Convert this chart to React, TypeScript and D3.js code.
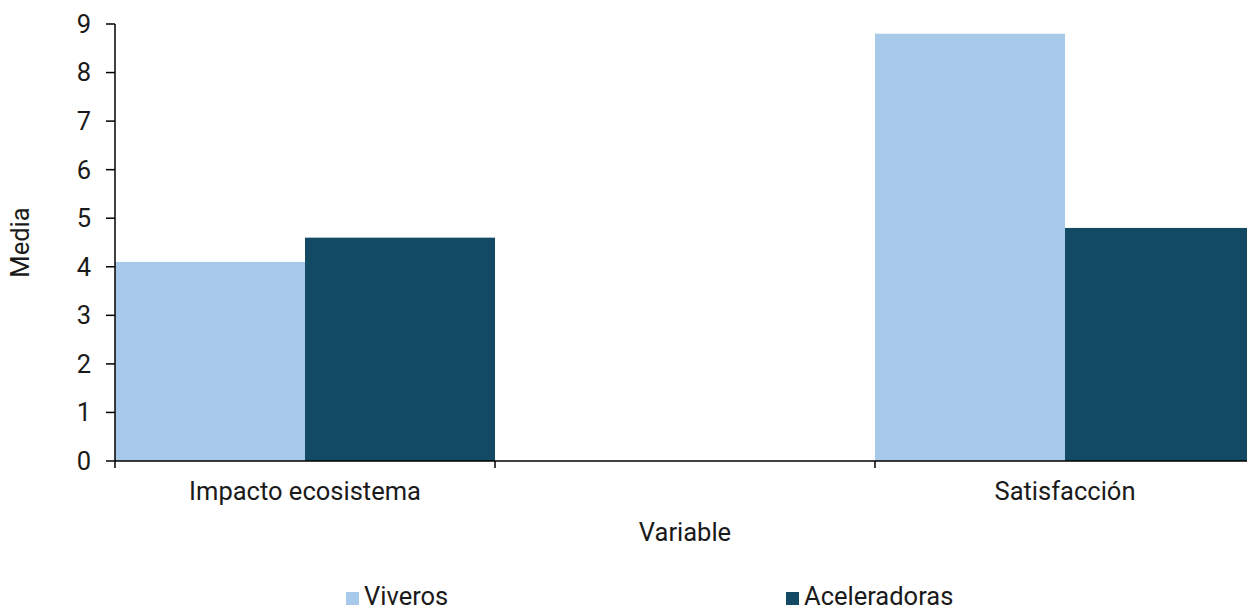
import React from "react";
import * as d3 from "d3";

const categories = ["Impacto ecosistema", "", "Satisfacción"];
const seriesNames = ["Viveros", "Aceleradoras"];
const viveros: (number | null)[] = [4.1, null, 8.8];
const aceleradoras: (number | null)[] = [4.6, null, 4.8];
const yTicks = [0, 1, 2, 3, 4, 5, 6, 7, 8, 9];
const colors = ["#a7caeb", "#124a63"];

const W = 1247;
const H = 611;
const FONT = "Roboto, 'Noto Sans', sans-serif";
const FS = 25.5;

export default function App() {
  const x = d3.scaleBand<string>().domain(categories).range([115, 1255]).padding(0);
  const x1 = d3.scaleBand<string>().domain(seriesNames).range([0, x.bandwidth()]).padding(0);
  const y = d3.scaleLinear().domain([0, 9]).range([461, 24]);
  const series = [viveros, aceleradoras];
  const tickPositions = categories.map((c) => x(c) as number);

  return (
    <svg width={W} height={H} style={{ position: "absolute", left: 0, top: 0 }} fontFamily={FONT}>
      <rect width={W} height={H} fill="#fff" />
      {series.map((vals, si) =>
        vals.map((v, ci) =>
          v == null ? null : (
            <rect
              key={`${si}-${ci}`}
              x={(x(categories[ci]) as number) + (x1(seriesNames[si]) as number)}
              y={y(v)}
              width={x1.bandwidth()}
              height={y(0) - y(v)}
              fill={colors[si]}
            />
          )
        )
      )}
      {/* axes */}
      <line x1={115} x2={W} y1={y(0)} y2={y(0)} stroke="#000" strokeWidth={1.5} />
      <line x1={115} x2={115} y1={y(9)} y2={y(0)} stroke="#000" strokeWidth={1.5} />
      {yTicks.map((t) => (
        <g key={t}>
          <line x1={106} x2={115} y1={y(t)} y2={y(t)} stroke="#000" strokeWidth={1.5} />
          <text x={91} y={y(t)} dy="0.35em" textAnchor="end" fontSize={FS} fill="#1a1a1a">
            {t}
          </text>
        </g>
      ))}
      {tickPositions.map((p, i) => (
        <line key={i} x1={p} x2={p} y1={y(0)} y2={y(0) + 7} stroke="#000" strokeWidth={1.5} />
      ))}
      {categories.map((c) =>
        c ? (
          <text key={c} x={(x(c) as number) + x.bandwidth() / 2} y={500} textAnchor="middle" fontSize={FS} fill="#1a1a1a">
            {c}
          </text>
        ) : null
      )}
      <text x={685} y={541} textAnchor="middle" fontSize={FS} fill="#1a1a1a">
        Variable
      </text>
      <text transform={`translate(29,${(y(0) + y(9)) / 2}) rotate(-90)`} textAnchor="middle" fontSize={FS} fill="#1a1a1a">
        Media
      </text>
      {/* legend */}
      {seriesNames.map((s, i) => {
        const lx = [346, 786][i];
        return (
          <g key={s}>
            <rect x={lx} y={592} width={13} height={13} fill={colors[i]} />
            <text x={lx + 18} y={605} fontSize={FS} fill="#1a1a1a">
              {s}
            </text>
          </g>
        );
      })}
    </svg>
  );
}
